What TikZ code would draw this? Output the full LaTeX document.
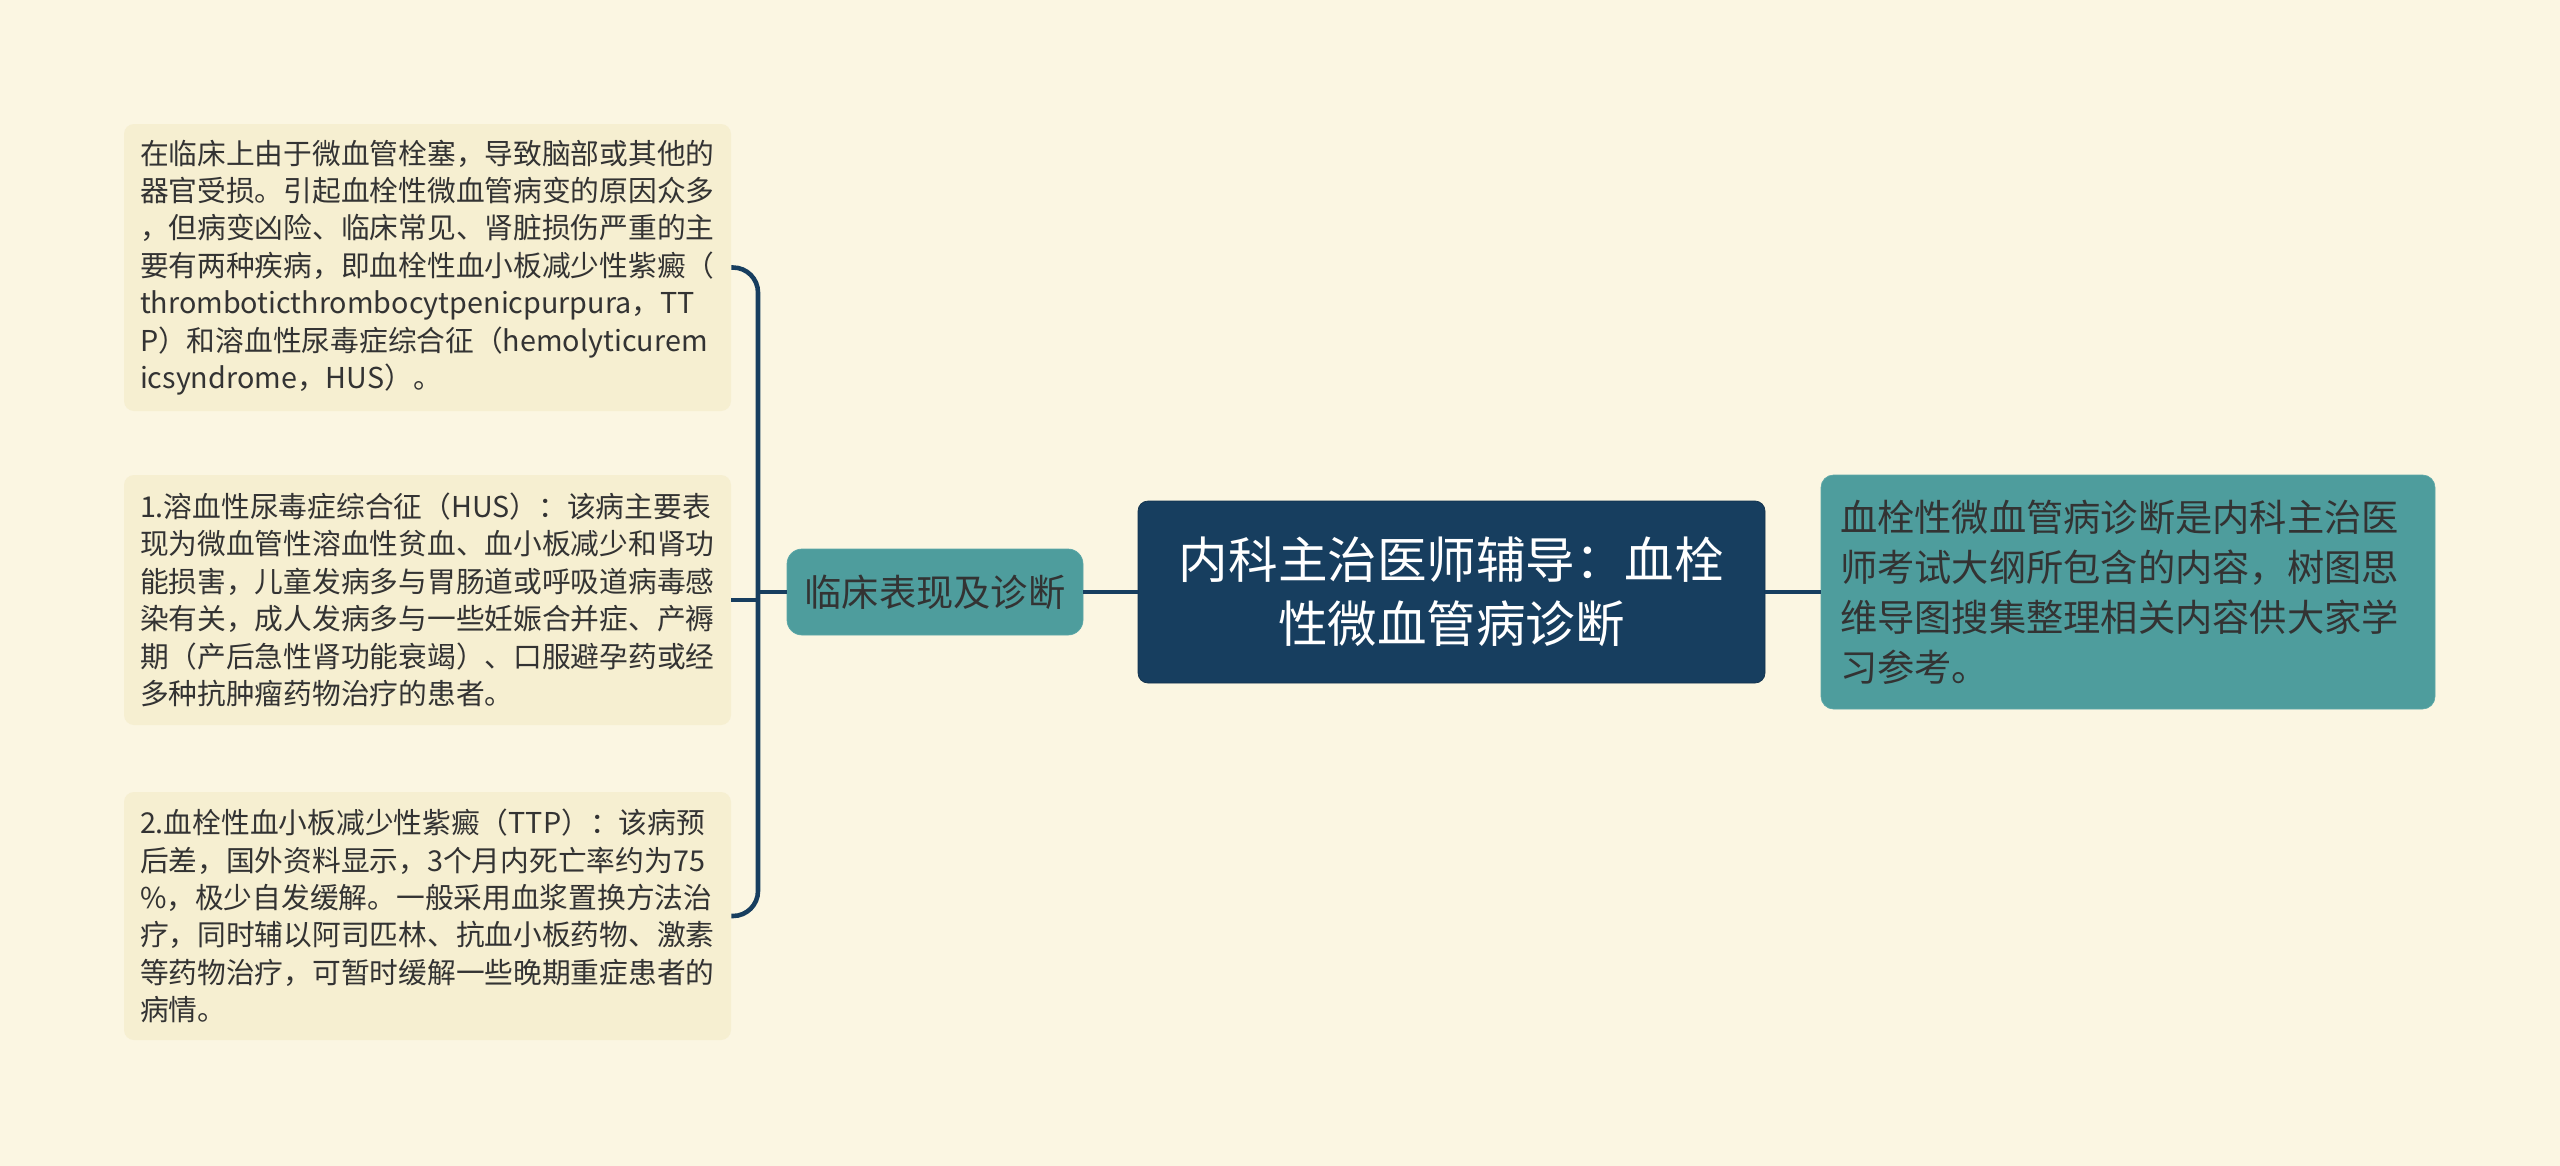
\documentclass[tikz,border=0pt]{standalone}
\usepackage{fontspec}
\newfontfamily\cjk{Noto Sans CJK SC}
\usepackage{tikz}

\definecolor{bgcol}{HTML}{FBF6E2}
\definecolor{leafcol}{HTML}{F6EFD1}
\definecolor{navy}{HTML}{173E5F}
\definecolor{teal}{HTML}{4E9D9D}
\definecolor{tealline}{HTML}{5DA8A8}
\definecolor{txt}{HTML}{333333}

\begin{document}
\begin{tikzpicture}[
	leaf/.style={fill=leafcol, rounded corners=0.2cm, text=txt, align=left,
		text width=11.5cm, inner xsep=0.32cm, inner ysep=0cm,
		font=\cjk\fontsize{16.35}{21.3}\selectfont},
	topic/.style={fill=teal, draw=tealline, rounded corners=0.25cm, text=txt},
	root/.style={fill=navy, draw=navy!80!black, rounded corners=0.2cm, text=white, align=center,
		minimum width=12.54cm, minimum height=3.64cm,
		font=\cjk\fontsize{28.2}{36.3}\selectfont},
	link/.style={navy, line width=2.6pt}
	]
	\fill[bgcol] (0,0) rectangle (51.2,-23.32);
	\useasboundingbox (0,0) rectangle (51.2,-23.32);

	% mitte
	\node[root] (haupt) at (29.03,-11.84) {内科主治医师辅导：血栓\\性微血管病诊断};
	\node[topic, align=left, text width=11.52cm, inner xsep=0.38cm, minimum height=4.68cm,
		font=\cjk\fontsize{21.2}{28.4}\selectfont] (info) at (42.56,-11.84)
		{血栓性微血管病诊断是内科主治医\\
		师考试大纲所包含的内容，树图思\\
		维导图搜集整理相关内容供大家学\\
		习参考。};
	\node[topic, minimum width=5.92cm, minimum height=1.72cm, rounded corners=0.3cm,
		font=\cjk\fontsize{21.2}{28.4}\selectfont] (klinik) at (18.7,-11.84) {临床表现及诊断};

	% blaetter
	\node[leaf, minimum height=5.74cm] (blatt1) at (8.55,-5.35)
		{在临床上由于微血管栓塞，导致脑部或其他的\\
		器官受损。引起血栓性微血管病变的原因众多\\
		，但病变凶险、临床常见、肾脏损伤严重的主\\
		要有两种疾病，即血栓性血小板减少性紫癜（\\
		thromboticthrombocytpenicpurpura，TT\\
		P）和溶血性尿毒症综合征（hemolyticurem\\
		icsyndrome，HUS）。};
	\node[leaf, minimum height=5.0cm] (blatt2) at (8.55,-12.0)
		{1.溶血性尿毒症综合征（HUS）：该病主要表\\
		现为微血管性溶血性贫血、血小板减少和肾功\\
		能损害，儿童发病多与胃肠道或呼吸道病毒感\\
		染有关，成人发病多与一些妊娠合并症、产褥\\
		期（产后急性肾功能衰竭）、口服避孕药或经\\
		多种抗肿瘤药物治疗的患者。};
	\node[leaf, minimum height=4.96cm] (blatt3) at (8.55,-18.32)
		{2.血栓性血小板减少性紫癜（TTP）：该病预\\
		后差，国外资料显示，3个月内死亡率约为75\\
		\%，极少自发缓解。一般采用血浆置换方法治\\
		疗，同时辅以阿司匹林、抗血小板药物、激素\\
		等药物治疗，可暂时缓解一些晚期重症患者的\\
		病情。};

	\coordinate (knoten) at (15.16,-11.84);

	\draw[link] (haupt) -- (info);
	\draw[link] (haupt) -- (klinik);
	\draw[link] (klinik.west) -- (knoten);
	\draw[link, rounded corners=0.5cm] (blatt1.east) -| (knoten) |- (blatt3.east);
	\draw[link] (blatt2.east) -- (blatt2.east -| knoten);
\end{tikzpicture}
\end{document}
